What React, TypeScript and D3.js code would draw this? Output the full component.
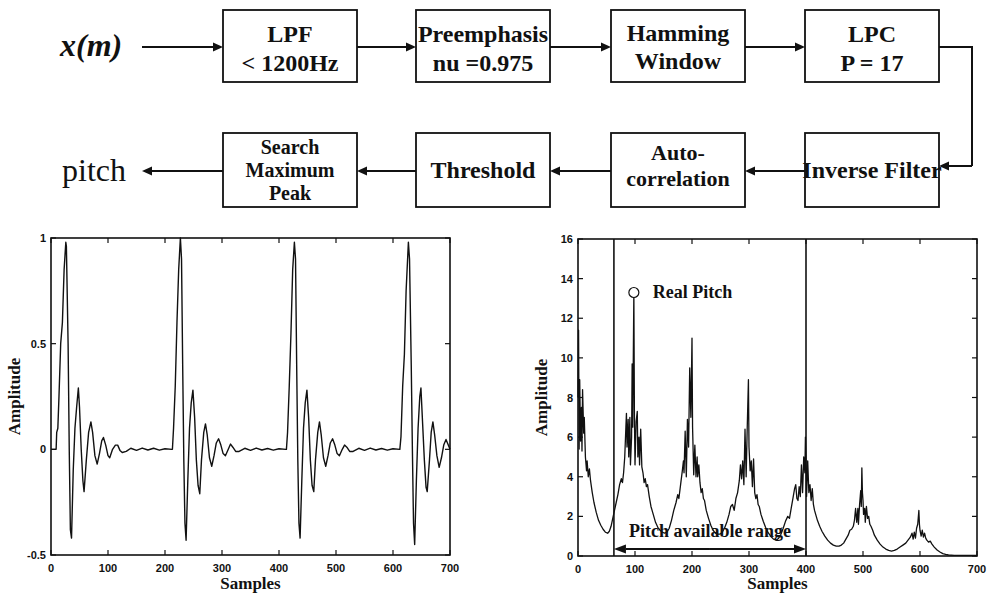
import React from "react";
import * as d3 from "d3";

const W = 989;
const H = 599;

// ---- block diagram text ----
const topBoxLabels: string[][] = [
  ["LPF", "< 1200Hz"],
  ["Preemphasis", "nu =0.975"],
  ["Hamming", "Window"],
  ["LPC", "P = 17"],
];
const bottomBoxLabels: string[][] = [
  ["Search", "Maximum", "Peak"],
  ["Threshold"],
  ["Auto-", "correlation"],
  ["Inverse Filter"],
];
const inputLabel = "x(m)";
const outputLabel = "pitch";

// ---- axis ticks ----
const sampleTicks = [0, 100, 200, 300, 400, 500, 600, 700];
const waveTicks = [-0.5, 0, 0.5, 1];
const acfTicks = [0, 2, 4, 6, 8, 10, 12, 14, 16];

// ---- residual waveform, [sample, amplitude] vertices for each pitch pulse ----
const pulse1: [number, number][] = [
  [0, 0], [9, 0], [10, 0.08], [12, 0.1], [14, 0.25], [17, 0.5], [20, 0.6], [23, 0.85],
  [26, 0.98], [27, 0.96], [30, 0.5], [32, 0.0], [34, -0.38], [36, -0.42], [39, -0.1],
  [42, 0.1], [45, 0.2], [48, 0.29], [50, 0.2], [53, 0.0], [56, -0.15], [58, -0.2],
  [62, -0.05], [66, 0.08], [70, 0.13], [73, 0.08], [77, -0.03], [81, -0.07], [85, -0.02],
  [89, 0.04], [92, 0.056], [96, 0.02], [100, -0.03], [103, -0.04], [108, 0.0], [113, 0.02],
  [117, 0.02], [121, -0.005], [125, -0.015], [132, -0.01], [140, 0.005], [150, -0.005],
  [160, 0.006], [170, -0.003], [180, 0.005], [190, -0.004], [200, 0.003], [212, 0.0],
];
const pulse2: [number, number][] = [
  [213, 0], [215, 0.1], [218, 0.3], [221, 0.6], [224, 0.85], [227, 1.0], [229, 0.9],
  [231, 0.4], [233, -0.05], [235, -0.35], [237, -0.43], [240, -0.15], [243, 0.1],
  [246, 0.22], [249, 0.28], [252, 0.15], [255, -0.05], [258, -0.17], [261, -0.21],
  [264, -0.05], [268, 0.08], [271, 0.12], [274, 0.07], [278, -0.04], [282, -0.08],
  [286, -0.03], [290, 0.03], [294, 0.05], [298, 0.02], [302, -0.02], [306, -0.03],
  [311, 0.0], [315, 0.025], [319, 0.01], [324, -0.01], [330, -0.01], [340, 0.005],
  [350, -0.005], [360, 0.006], [370, -0.003], [380, 0.004], [390, -0.004], [400, 0.003],
  [412, 0.0],
];
const pulse3: [number, number][] = [
  [413, 0], [415, 0.08], [418, 0.3], [421, 0.55], [424, 0.85], [427, 0.98], [429, 0.9],
  [431, 0.4], [433, -0.05], [435, -0.35], [437, -0.42], [440, -0.15], [443, 0.1],
  [446, 0.22], [449, 0.28], [452, 0.15], [455, -0.05], [458, -0.17], [461, -0.2],
  [464, -0.05], [468, 0.08], [471, 0.13], [474, 0.07], [478, -0.04], [482, -0.08],
  [486, -0.03], [490, 0.03], [494, 0.05], [498, 0.02], [502, -0.02], [506, -0.03],
  [511, 0.0], [515, 0.02], [519, 0.01], [524, -0.01], [530, -0.01], [540, 0.005],
  [550, -0.005], [560, 0.006], [570, -0.003], [580, 0.004], [590, -0.004], [600, 0.003],
  [612, 0.0],
];
const pulse4: [number, number][] = [
  [612, 0], [614, 0.06], [617, 0.3], [620, 0.45], [623, 0.75], [627, 0.98], [629, 0.9],
  [632, 0.4], [634, 0.0], [636, -0.35], [638, -0.45], [641, -0.15], [644, 0.1],
  [647, 0.25], [649, 0.29], [652, 0.12], [655, -0.05], [658, -0.18], [660, -0.2],
  [664, -0.05], [667, 0.08], [670, 0.13], [673, 0.07], [677, -0.03], [681, -0.085],
  [685, -0.04], [689, 0.02], [693, 0.047], [697, 0.02], [700, 0.0],
];

// ---- autocorrelation of the residual, [lag, value] vertices per lobe ----
const lobe0: [number, number][] = [
  [0, 8.0], [1, 11.4], [2, 5.4], [3, 8.9], [4.5, 5.8], [6, 7.5], [7, 5.3], [8, 8.4], [10, 6.2],
  [11, 7.0], [13, 5.0], [15, 4.3], [16, 4.8], [18, 4.0], [20, 4.4], [22, 3.8], [25, 3.2],
  [28, 2.7], [32, 2.2], [36, 1.8], [40, 1.55], [44, 1.35], [48, 1.2], [52, 1.15],
];
const lobe100: [number, number][] = [
  [55, 1.25], [58, 1.5], [61, 1.9], [64, 2.3], [67, 2.7], [70, 3.1], [73, 3.6], [76, 3.9],
  [78, 3.7], [80, 4.2], [82, 5.0], [84, 6.5], [85, 7.2], [86, 5.5], [88, 6.9], [89, 5.0],
  [91, 7.0], [92, 4.6], [94, 6.0], [95, 9.7], [96, 6.5], [98, 13.3], [99, 7.0], [100, 4.6],
  [102, 6.8], [104, 7.3], [105, 5.0], [107, 6.0], [108, 4.6], [110, 6.4], [112, 4.5],
  [114, 4.2], [116, 3.7], [118, 3.9], [120, 3.5], [122, 3.6], [125, 3.0], [128, 2.5],
  [132, 2.1], [136, 1.7], [140, 1.45], [144, 1.3], [148, 1.2], [152, 1.15],
];
const lobe200: [number, number][] = [
  [156, 1.2], [160, 1.4], [164, 1.8], [168, 2.3], [172, 2.7], [175, 3.1], [177, 2.9],
  [180, 3.6], [183, 4.3], [185, 4.8], [186, 4.2], [188, 6.3], [190, 4.0], [192, 6.9],
  [194, 5.5], [196, 9.5], [198, 7.0], [200, 11.0], [201, 6.5], [203, 4.1], [205, 5.6],
  [207, 4.0], [209, 5.0], [210, 4.0], [212, 4.6], [214, 3.7], [216, 3.2], [218, 3.4],
  [220, 2.9], [222, 2.8], [225, 2.3], [229, 1.9], [233, 1.55], [237, 1.3], [241, 1.15],
  [245, 1.1], [249, 1.1],
];
const lobe300: [number, number][] = [
  [253, 1.2], [257, 1.4], [261, 1.7], [265, 2.1], [268, 2.5], [271, 2.6], [274, 2.3],
  [277, 2.9], [280, 3.2], [283, 3.8], [285, 4.6], [287, 3.9], [289, 4.8], [291, 3.6],
  [293, 6.4], [295, 4.0], [297, 6.6], [299, 8.9], [300, 5.5], [302, 4.3], [304, 4.8],
  [306, 3.5], [308, 4.9], [310, 3.2], [312, 2.9], [314, 3.1], [316, 2.6], [318, 2.5],
  [321, 2.1], [325, 1.75], [329, 1.45], [333, 1.2], [338, 1.0], [343, 0.85], [348, 0.8],
];
const lobe400: [number, number][] = [
  [352, 0.9], [356, 1.1], [360, 1.4], [364, 1.75], [368, 2.0], [371, 1.9], [374, 2.4],
  [377, 2.9], [380, 3.4], [382, 3.6], [384, 2.9], [386, 2.8], [388, 3.5], [390, 3.0],
  [392, 4.6], [394, 3.2], [396, 5.0], [398, 4.2], [399, 6.0], [400, 5.0], [401, 3.0],
  [403, 4.8], [405, 3.2], [407, 3.6], [409, 2.8], [411, 3.4], [413, 2.6], [415, 2.3],
  [418, 2.0], [420, 1.8], [424, 1.5], [428, 1.25], [433, 1.0], [438, 0.8], [443, 0.65],
  [448, 0.55], [453, 0.5],
];
const lobe500: [number, number][] = [
  [458, 0.5], [462, 0.55], [466, 0.65], [470, 0.85], [474, 1.05], [477, 1.3], [480, 1.35],
  [483, 1.5], [485, 1.8], [487, 2.4], [489, 1.7], [491, 2.4], [492, 1.6], [494, 2.6],
  [496, 3.3], [497, 2.5], [498, 4.45], [499, 3.2], [500, 2.8], [501, 2.1], [503, 2.4],
  [504, 1.7], [506, 2.5], [508, 1.9], [510, 2.0], [512, 1.6], [514, 1.5], [517, 1.3],
  [520, 1.05], [525, 0.8], [530, 0.6], [535, 0.45], [540, 0.35], [545, 0.28], [550, 0.25],
];
const lobe600: [number, number][] = [
  [555, 0.28], [560, 0.35], [565, 0.45], [570, 0.55], [575, 0.65], [579, 0.8], [583, 0.95],
  [586, 1.15], [588, 0.85], [590, 1.2], [592, 0.9], [594, 1.4], [596, 1.6], [598, 2.3],
  [599, 1.6], [600, 1.3], [602, 1.0], [604, 1.3], [606, 0.95], [608, 1.15], [610, 0.9],
  [612, 0.8], [615, 0.7], [618, 0.75], [621, 0.6], [625, 0.45], [630, 0.3], [635, 0.2],
  [640, 0.12], [645, 0.08], [650, 0.05], [660, 0.03], [680, 0.03], [700, 0.03],
];

// search window and detected pitch
const rangeStart = 63;
const rangeEnd = 400;
const realPitch: [number, number] = [98, 13.3];
const rangeLabel = "Pitch available range";
const pitchLabel = "Real Pitch";

const SERIF = "'Liberation Serif', 'Times New Roman', 'DejaVu Serif', serif";
const SANS = "'Liberation Sans', Arial, Helvetica, sans-serif";
const INK = "#111";

function Arrow({ x1, y1, x2, y2, head = 10 }: { x1: number; y1: number; x2: number; y2: number; head?: number }) {
  const ang = Math.atan2(y2 - y1, x2 - x1);
  const hx = x2 - head * Math.cos(ang);
  const hy = y2 - head * Math.sin(ang);
  const w = 4.5;
  const px = -Math.sin(ang) * w;
  const py = Math.cos(ang) * w;
  return (
    <g>
      <line x1={x1} y1={y1} x2={hx} y2={hy} stroke={INK} strokeWidth={2} />
      <polygon points={`${x2},${y2} ${hx + px},${hy + py} ${hx - px},${hy - py}`} fill={INK} />
    </g>
  );
}

function Box({ x, y, w, h, lines, baselines, size }: { x: number; y: number; w: number; h: number; lines: string[]; baselines: number[]; size: number }) {
  return (
    <g>
      <rect x={x} y={y} width={w} height={h} fill="white" stroke={INK} strokeWidth={1.8} />
      {lines.map((t, i) => (
        <text key={i} x={x + w / 2} y={baselines[i]} textAnchor="middle" fontFamily={SERIF}
          fontWeight="bold" fontSize={size} fill={INK}>{t}</text>
      ))}
    </g>
  );
}

function Frame({ x0, x1, y0, y1, xs, ys, xTicks, yTicks }: any) {
  const tl = 5;
  return (
    <g>
      <rect x={x0} y={y1} width={x1 - x0} height={y0 - y1} fill="none" stroke={INK} strokeWidth={1.6} />
      {xTicks.map((t: number) => (
        <g key={"x" + t}>
          <line x1={xs(t)} x2={xs(t)} y1={y0} y2={y0 - tl} stroke={INK} strokeWidth={1.2} />
          <line x1={xs(t)} x2={xs(t)} y1={y1} y2={y1 + tl} stroke={INK} strokeWidth={1.2} />
          <text x={xs(t)} y={y0 + 17} textAnchor="middle" fontFamily={SANS} fontWeight="bold"
            fontSize={11} fill={INK}>{t}</text>
        </g>
      ))}
      {yTicks.map((t: number) => (
        <g key={"y" + t}>
          <line x1={x0} x2={x0 + tl} y1={ys(t)} y2={ys(t)} stroke={INK} strokeWidth={1.2} />
          <line x1={x1} x2={x1 - tl} y1={ys(t)} y2={ys(t)} stroke={INK} strokeWidth={1.2} />
          <text x={x0 - 5} y={ys(t) + 4} textAnchor="end" fontFamily={SANS} fontWeight="bold"
            fontSize={11} fill={INK}>{String(t)}</text>
        </g>
      ))}
      <text x={(x0 + x1) / 2} y={589} textAnchor="middle" fontFamily={SERIF} fontWeight="bold"
        fontSize={17} fill={INK}>Samples</text>
      <text transform={`translate(${x0 - 31},${(y0 + y1) / 2}) rotate(-90)`} textAnchor="middle"
        fontFamily={SERIF} fontWeight="bold" fontSize={17} fill={INK}>Amplitude</text>
    </g>
  );
}

export default function App() {
  // block diagram geometry
  const colX = [223, 416, 611, 805];
  const boxW = 134;
  const topY = 10, topH = 72;
  const botY = 133, botH = 74;
  const topBase = [[42, 71], [42, 71], [41, 69], [42, 71]];
  const botBase = [[154, 177, 200], [178], [160, 186], [178]];
  const botSize = [20, 24, 22, 24];
  const rowY1 = 47;
  const rowY2 = 171;

  // left plot: residual waveform
  const lx = d3.scaleLinear().domain([0, 700]).range([51, 450]);
  const ly = d3.scaleLinear().domain([-0.5, 1]).range([555, 238]);
  const waveLine = d3.line<[number, number]>().x((d) => lx(d[0])).y((d) => ly(d[1]));
  const wave = [...pulse1, ...pulse2, ...pulse3, ...pulse4];

  // right plot: autocorrelation
  const rx = d3.scaleLinear().domain([0, 700]).range([578, 977]);
  const ry = d3.scaleLinear().domain([0, 16]).range([556, 239]);
  const acfLine = d3.line<[number, number]>().x((d) => rx(d[0])).y((d) => ry(d[1]));
  const acf = [...lobe0, ...lobe100, ...lobe200, ...lobe300, ...lobe400, ...lobe500, ...lobe600];

  const arrowY = ry(0.35);
  const midRange = (rx(rangeStart) + rx(rangeEnd)) / 2;

  return (
    <svg width={W} height={H} style={{ position: "absolute", left: 0, top: 0, background: "white" }}>
      <rect x={0} y={0} width={W} height={H} fill="white" />

      {/* processing chain */}
      <text x={60} y={56} fontFamily={SERIF} fontStyle="italic" fontWeight="bold" fontSize={32} fill={INK}>{inputLabel}</text>
      <Arrow x1={142} y1={rowY1} x2={223} y2={rowY1} />
      {topBoxLabels.map((lines, i) => (
        <Box key={"t" + i} x={colX[i]} y={topY} w={boxW} h={topH} lines={lines} baselines={topBase[i]} size={24} />
      ))}
      {[0, 1, 2].map((i) => (
        <Arrow key={"ta" + i} x1={colX[i] + boxW} y1={rowY1} x2={colX[i + 1]} y2={rowY1} />
      ))}
      <polyline points={`${colX[3] + boxW},${rowY1} 972,${rowY1} 972,166`} fill="none" stroke={INK} strokeWidth={2} />
      <Arrow x1={972} y1={166} x2={colX[3] + boxW} y2={166} />

      {bottomBoxLabels.map((lines, i) => (
        <Box key={"b" + i} x={colX[i]} y={botY} w={boxW} h={botH} lines={lines} baselines={botBase[i]} size={botSize[i]} />
      ))}
      {[3, 2, 1].map((i) => (
        <Arrow key={"ba" + i} x1={colX[i]} y1={rowY2} x2={colX[i - 1] + boxW} y2={rowY2} />
      ))}
      <Arrow x1={colX[0]} y1={rowY2} x2={142} y2={rowY2} />
      <text x={62} y={181} fontFamily={SERIF} fontSize={32} fill={INK}>{outputLabel}</text>

      {/* residual waveform */}
      <path d={waveLine(wave) || ""} fill="none" stroke={INK} strokeWidth={1.4} strokeLinejoin="round" />
      <Frame x0={51} x1={450} y0={555} y1={238} xs={lx} ys={ly} xTicks={sampleTicks} yTicks={waveTicks} />

      {/* autocorrelation */}
      <path d={acfLine(acf) || ""} fill="none" stroke={INK} strokeWidth={1.3} strokeLinejoin="round" />
      <line x1={rx(rangeStart)} x2={rx(rangeStart)} y1={ry(0)} y2={ry(16)} stroke={INK} strokeWidth={1.6} />
      <line x1={rx(rangeEnd)} x2={rx(rangeEnd)} y1={ry(0)} y2={ry(16)} stroke={INK} strokeWidth={1.6} />
      <Frame x0={578} x1={977} y0={556} y1={239} xs={rx} ys={ry} xTicks={sampleTicks} yTicks={acfTicks} />
      <circle cx={rx(realPitch[0])} cy={ry(realPitch[1])} r={5} fill="white" stroke={INK} strokeWidth={1.2} />
      <text x={rx(realPitch[0]) + 19} y={ry(realPitch[1]) + 6} fontFamily={SERIF} fontWeight="bold" fontSize={18} fill={INK}>{pitchLabel}</text>

      <Arrow x1={midRange} y1={arrowY} x2={rx(rangeStart)} y2={arrowY} head={12} />
      <Arrow x1={midRange} y1={arrowY} x2={rx(rangeEnd)} y2={arrowY} head={12} />
      <text x={midRange} y={537} textAnchor="middle" fontFamily={SERIF}
        fontWeight="bold" fontSize={18} fill={INK}>{rangeLabel}</text>
    </svg>
  );
}
